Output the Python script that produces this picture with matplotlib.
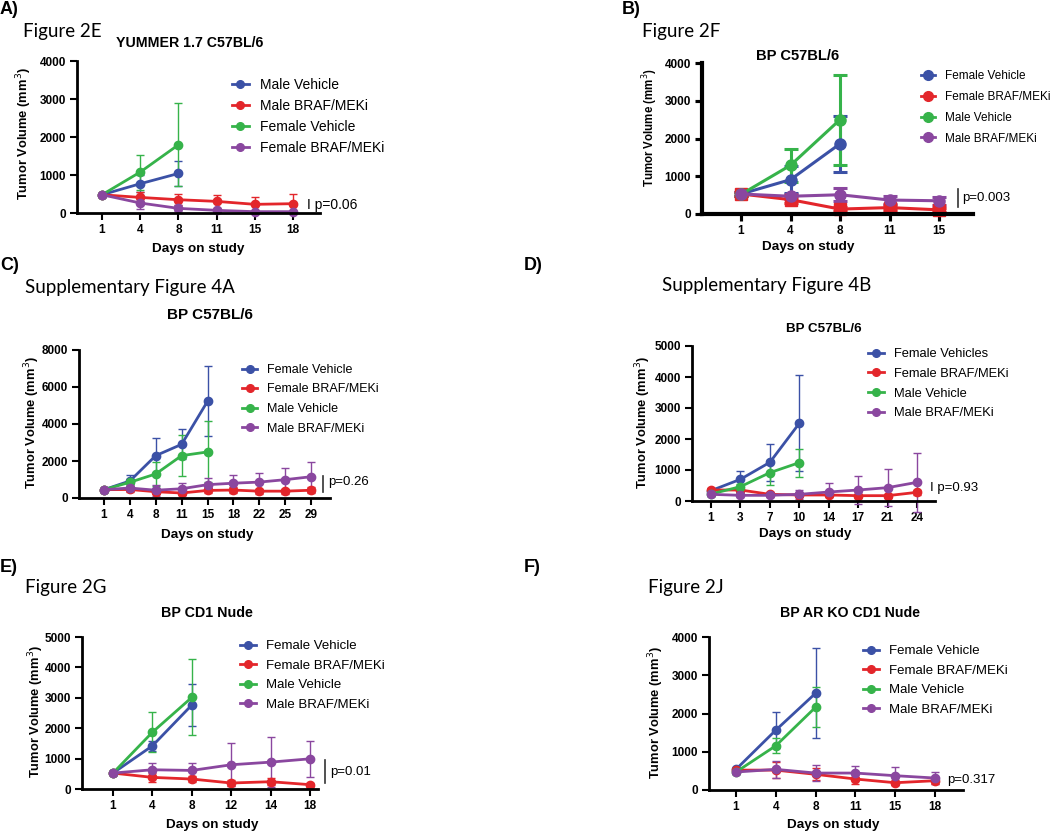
#
# Tumor volume over time, six panels (Figure 2E/2F/2G/2J, Supp 4A/4B)
#
import matplotlib
matplotlib.use('agg')
import matplotlib.pyplot as plt
from matplotlib.lines import Line2D

plt.rcParams['font.family'] = 'Liberation Sans'

BLUE = '#3b51a6'
RED = '#e3262b'
GREEN = '#36b34a'
PURPLE = '#8a479f'

# ---- A) Figure 2E : YUMMER 1.7 C57BL/6
a_days = ['1', '4', '8', '11', '15', '18']
a_male_veh = [480, 770, 1040]
a_male_veh_err = [30, 220, 340]
a_male_braf = [480, 410, 350, 306, 228, 245]
a_male_braf_err = [30, 150, 150, 165, 200, 245]
a_fem_veh = [480, 1077, 1794]
a_fem_veh_err = [30, 460, 1090]
a_fem_braf = [480, 263, 122, 70, 35, 35]
a_fem_braf_err = [30, 150, 80, 40, 20, 20]

# ---- B) Figure 2F : BP C57BL/6
b_days = ['1', '4', '8', '11', '15']
b_fem_veh = [530, 910, 1860]
b_fem_veh_err = [40, 350, 740]
b_fem_braf = [530, 380, 130, 170, 110]
b_fem_braf_err = [40, 100, 60, 60, 60]
b_male_veh = [520, 1290, 2500]
b_male_veh_err = [40, 440, 1190]
b_male_braf = [530, 470, 510, 370, 350]
b_male_braf_err = [40, 60, 170, 100, 110]

# ---- C) Supplementary Figure 4A : BP C57BL/6
c_days = ['1', '4', '8', '11', '15', '18', '22', '25', '29']
c_fem_veh = [450, 920, 2290, 2900, 5225]
c_fem_veh_err = [60, 330, 950, 810, 1890]
c_fem_braf = [450, 460, 340, 270, 410, 430, 370, 370, 420]
c_fem_braf_err = [60, 120, 120, 100, 150, 150, 130, 130, 150]
c_male_veh = [450, 850, 1300, 2290, 2490]
c_male_veh_err = [60, 200, 630, 1100, 1650]
c_male_braf = [450, 540, 420, 500, 720, 800, 860, 990, 1150]
c_male_braf_err = [60, 150, 300, 330, 350, 420, 470, 650, 800]

# ---- D) Supplementary Figure 4B : BP C57BL/6
d_days = ['1', '3', '7', '10', '14', '17', '21', '24']
d_fem_veh = [333, 700, 1247, 2505]
d_fem_veh_err = [60, 270, 590, 1550]
d_fem_braf = [355, 355, 215, 194, 194, 172, 172, 280]
d_fem_braf_err = [50, 80, 60, 60, 60, 60, 60, 80]
d_male_veh = [226, 462, 914, 1237]
d_male_veh_err = [60, 100, 400, 450]
d_male_braf = [215, 183, 183, 215, 290, 355, 430, 602]
d_male_braf_err = [40, 60, 60, 140, 280, 460, 600, 950]

# ---- E) Figure 2G : BP CD1 Nude
e_days = ['1', '4', '8', '12', '14', '18']
e_fem_veh = [524, 1420, 2762]
e_fem_veh_err = [40, 170, 690]
e_fem_braf = [524, 382, 328, 197, 240, 142]
e_fem_braf_err = [40, 150, 100, 100, 120, 50]
e_male_veh = [524, 1867, 3013]
e_male_veh_err = [40, 650, 1250]
e_male_braf = [524, 633, 611, 797, 884, 993]
e_male_braf_err = [40, 220, 260, 710, 820, 600]

# ---- F) Figure 2J : BP AR KO CD1 Nude
f_days = ['1', '4', '8', '11', '15', '18']
f_fem_veh = [540, 1565, 2530]
f_fem_veh_err = [40, 480, 1180]
f_fem_braf = [520, 520, 410, 287, 190, 243]
f_fem_braf_err = [40, 200, 160, 120, 60, 80]
f_male_veh = [470, 1157, 2165]
f_male_veh_err = [40, 200, 530]
f_male_braf = [470, 540, 443, 443, 374, 313]
f_male_braf_err = [40, 225, 200, 180, 240, 150]

W, H = 1050, 832
fig = plt.figure(figsize=(W / 100, H / 100), dpi=100)


def fx(x):
    return x / W


def fy(y):
    return 1 - y / H


def panel(box, ticks_px, days, ymax, ystep, series, legend_at, fs_leg=9.5,
          spacing=0.45, bold_b=False):
    x0, y0, x1, y1 = box
    ax = fig.add_axes([fx(x0), fy(y1), (x1 - x0) / W, (y1 - y0) / H])
    t0, t1 = ticks_px
    step = (t1 - t0) / (len(days) - 1)
    ax.set_xlim((x0 - t0) / step, (x1 - t0) / step)
    ax.set_ylim(0, ymax)
    for s in ['top', 'right']:
        ax.spines[s].set_visible(False)
    sw = 3 if bold_b else 2
    for s in ['left', 'bottom']:
        ax.spines[s].set_linewidth(sw)
    ax.set_xticks(range(len(days)))
    ax.set_xticklabels(days)
    ax.set_yticks(range(0, ymax + 1, ystep))
    ax.tick_params(width=sw * 0.75, length=5, labelsize=8.5, pad=3)
    for lab in ax.get_xticklabels() + ax.get_yticklabels():
        lab.set_fontweight('bold')
    handles = []
    for label, color, vals, errs, mk in series:
        pos = list(range(len(vals)))
        if bold_b:
            ax.errorbar(pos, vals, yerr=errs, color=color, lw=2.2, marker=mk,
                        ms=8, capsize=5, elinewidth=2.2, capthick=2.2,
                        clip_on=False)
        else:
            ax.errorbar(pos, vals, yerr=errs, color=color, lw=2, marker=mk,
                        ms=6, capsize=3, elinewidth=1, capthick=1,
                        clip_on=False)
        handles.append(Line2D([], [], color=color, lw=2, marker='o',
                              ms=5.5 if not bold_b else 7, label=label))
    lx, ly = legend_at
    ax.legend(handles=handles, loc='upper left',
              bbox_to_anchor=(fx(lx), fy(ly)), bbox_transform=fig.transFigure,
              frameon=False, fontsize=fs_leg, handlelength=1.2,
              handletextpad=0.8, labelspacing=spacing, borderpad=0,
              borderaxespad=0)
    return ax


def texts(letter, letter_xy, header, header_xy, title, title_xy, title_fs,
          ylab_xy, xlab_xy, ylab_fs=9.3):
    fig.text(fx(letter_xy[0]), fy(letter_xy[1]), letter, fontsize=13,
             fontweight='bold', ha='left', va='center')
    fig.text(fx(header_xy[0]), fy(header_xy[1]), header, fontsize=13.5,
             family='Lato', ha='left', va='center')
    fig.text(fx(title_xy[0]), fy(title_xy[1]), title, fontsize=title_fs,
             fontweight='bold', ha='center', va='center')
    fig.text(fx(ylab_xy[0]), fy(ylab_xy[1]), 'Tumor Volume (mm$^3$)',
             fontsize=ylab_fs, fontweight='bold', rotation=90,
             ha='center', va='center')
    fig.text(fx(xlab_xy[0]), fy(xlab_xy[1]), 'Days on study', fontsize=9.7,
             fontweight='bold', ha='center', va='center')


def pbar(x, ytop, ybot):
    fig.add_artist(Line2D([fx(x), fx(x)], [fy(ytop), fy(ybot)],
                          transform=fig.transFigure, color='#333333', lw=1.2))


def ptext(x, y, s, fs=9.5):
    fig.text(fx(x), fy(y), s, fontsize=fs, ha='left', va='center')


# A
panel((77, 61, 320, 213), (102, 293), a_days, 4000, 1000, [
    ('Male Vehicle', BLUE, a_male_veh, a_male_veh_err, 'o'),
    ('Male BRAF/MEKi', RED, a_male_braf, a_male_braf_err, 'o'),
    ('Female Vehicle', GREEN, a_fem_veh, a_fem_veh_err, 'o'),
    ('Female BRAF/MEKi', PURPLE, a_fem_braf, a_fem_braf_err, 'o'),
], (232, 78), fs_leg=10, spacing=0.5)
texts('A)', (0, 10), 'Figure 2E', (23, 32), 'YUMMER 1.7 C57BL/6', (190, 43),
      10.2, (24, 134), (198, 249))
ptext(307, 205, 'I p=0.06', fs=10)

# B
panel((702, 63, 973, 214), (741, 939), b_days, 4000, 1000, [
    ('Female Vehicle', BLUE, b_fem_veh, b_fem_veh_err, 'o'),
    ('Female BRAF/MEKi', RED, b_fem_braf, b_fem_braf_err, 's'),
    ('Male Vehicle', GREEN, b_male_veh, b_male_veh_err, 'o'),
    ('Male BRAF/MEKi', PURPLE, b_male_braf, b_male_braf_err, 'o'),
], (921, 70), fs_leg=8.5, spacing=0.75, bold_b=True)
texts('B)', (622, 10), 'Figure 2F', (642, 32), 'BP C57BL/6', (798, 56),
      10.6, (650, 128), (808, 247), ylab_fs=8.3)
pbar(958, 189, 207)
ptext(962, 198, 'p=0.003')

# C
panel((79, 350, 330, 498), (104, 311), c_days, 8000, 2000, [
    ('Female Vehicle', BLUE, c_fem_veh, c_fem_veh_err, 'o'),
    ('Female BRAF/MEKi', RED, c_fem_braf, c_fem_braf_err, 'o'),
    ('Male Vehicle', GREEN, c_male_veh, c_male_veh_err, 'o'),
    ('Male BRAF/MEKi', PURPLE, c_male_braf, c_male_braf_err, 'o'),
], (242, 364), fs_leg=9, spacing=0.6)
texts('C)', (0, 266), 'Supplementary Figure 4A', (25, 287), 'BP C57BL/6',
      (210, 315), 11, (32, 423), (207, 535))
pbar(323, 476, 492)
ptext(328, 482, 'p=0.26')

# D
panel((692, 346, 935, 501), (711, 917), d_days, 5000, 1000, [
    ('Female Vehicles', BLUE, d_fem_veh, d_fem_veh_err, 'o'),
    ('Female BRAF/MEKi', RED, d_fem_braf, d_fem_braf_err, 'o'),
    ('Male Vehicle', GREEN, d_male_veh, d_male_veh_err, 'o'),
    ('Male BRAF/MEKi', PURPLE, d_male_braf, d_male_braf_err, 'o'),
], (868, 348), fs_leg=9.3, spacing=0.6)
texts('D)', (524, 266), 'Supplementary Figure 4B', (662, 285), 'BP C57BL/6',
      (824, 329), 9.6, (643, 423), (805, 534))
ptext(930, 488, 'I p=0.93')

# E
panel((82, 637, 318, 789), (113, 310), e_days, 5000, 1000, [
    ('Female Vehicle', BLUE, e_fem_veh, e_fem_veh_err, 'o'),
    ('Female BRAF/MEKi', RED, e_fem_braf, e_fem_braf_err, 'o'),
    ('Male Vehicle', GREEN, e_male_veh, e_male_veh_err, 'o'),
    ('Male BRAF/MEKi', PURPLE, e_male_braf, e_male_braf_err, 'o'),
], (240, 640), fs_leg=9.5, spacing=0.55)
texts('E)', (0, 567), 'Figure 2G', (25, 587), 'BP CD1 Nude', (207, 613),
      10.3, (36, 712), (212, 825))
pbar(325, 760, 783)
ptext(330, 772, 'p=0.01')

# F
panel((709, 637, 963, 790), (736, 935), f_days, 4000, 1000, [
    ('Female Vehicle', BLUE, f_fem_veh, f_fem_veh_err, 'o'),
    ('Female BRAF/MEKi', RED, f_fem_braf, f_fem_braf_err, 'o'),
    ('Male Vehicle', GREEN, f_male_veh, f_male_veh_err, 'o'),
    ('Male BRAF/MEKi', PURPLE, f_male_braf, f_male_braf_err, 'o'),
], (863, 645), fs_leg=9.5, spacing=0.55)
texts('F)', (524, 567), 'Figure 2J', (648, 587), 'BP AR KO CD1 Nude',
      (850, 613), 10.2, (656, 713), (833, 825))
ptext(947, 780, 'p=0.317')

fig.savefig('out.png', dpi=100)
plt.close(fig)
